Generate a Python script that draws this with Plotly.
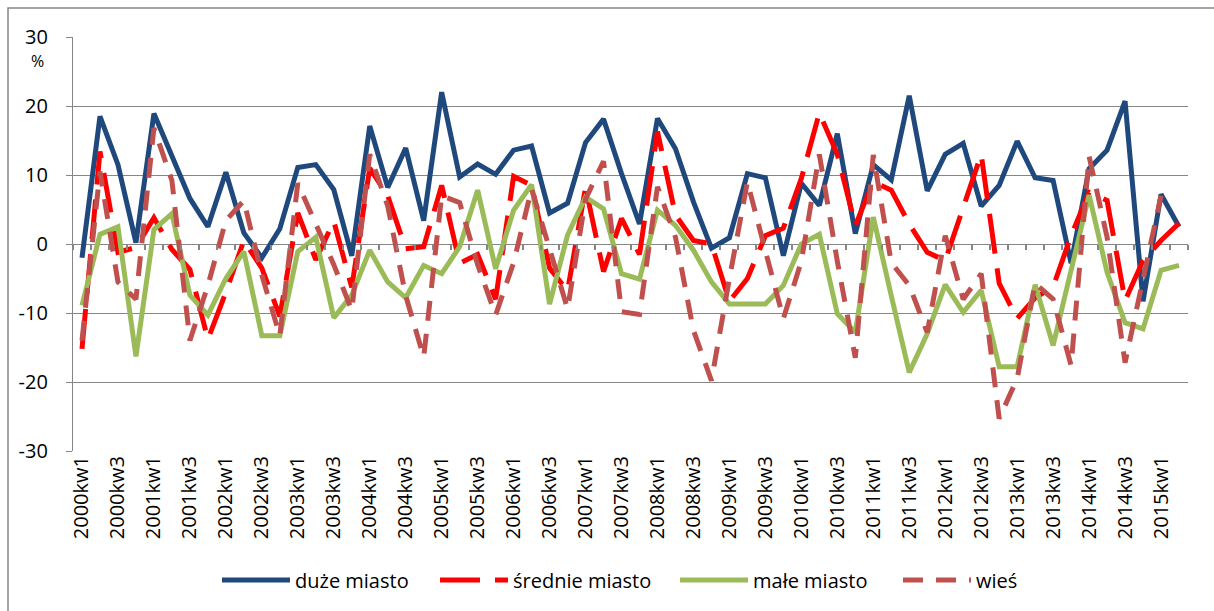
import plotly.graph_objects as go

quarters = [f"{y}kw{q}" for y in range(2000, 2016) for q in (1, 2, 3, 4)][:62]
tick_labels = quarters[::2]
y_ticks = [-30, -20, -10, 0, 10, 20, 30]
y_tick_text = ["-30", "-20", "-10", "0", "10", "20", "30"]

duze_miasto = [-2.0, 18.5, 11.5, 0.2, 18.9, 12.8, 6.6, 2.5, 10.4, 1.6,
               -2.0, 2.2, 11.1, 11.5, 7.9, -1.7, 17.1, 8.2, 13.9, 3.4,
               22.0, 9.7, 11.6, 10.1, 13.6, 14.2, 4.5, 5.9, 14.7, 18.1,
               10.2, 2.9, 18.2, 13.8, 6.1, -0.6, 0.9, 10.2, 9.6, -1.7,
               8.8, 5.6, 16.0, 1.5, 11.5, 9.3, 21.5, 7.7, 13.0, 14.6,
               5.5, 8.5, 14.9, 9.6, 9.2, -2.8, 10.9, 13.6, 20.7, -8.3,
               7.2, 2.5]

srednie_miasto = [-15.2, 13.4, -1.2, -0.5, 3.8, -0.8, -3.7, -13.8, -7.0, 0.5,
                  -3.5, -10.5, 4.5, -2.3, 3.3, -6.3, 11.0, 7.0, -0.7, -0.4,
                  8.5, -2.8, -1.5, -8.0, 9.8, 8.5, -3.5, -6.8, 8.2, -4.0,
                  3.7, -1.5, 16.3, 4.2, 0.5, 0.0, -8.3, -5.0, 1.2, 2.3,
                  9.5, 19.0, 13.0, 2.7, 9.0, 7.8, 2.9, -1.2, -2.4, 5.5,
                  13.0, -5.7, -10.8, -7.8, -6.2, 1.2, 7.5, 6.3, -8.2, -2.4,
                  0.5, 3.0]

male_miasto = [-8.9, 1.4, 2.5, -16.3, 2.1, 4.4, -7.4, -10.3, -5.0, -1.1,
               -13.3, -13.3, -1.1, 1.0, -10.7, -7.4, -0.9, -5.5, -7.8, -3.1,
               -4.3, -0.4, 7.8, -3.6, 4.9, 8.6, -8.7, 1.3, 6.8, 5.1,
               -4.3, -5.1, 4.9, 2.7, -0.9, -5.5, -8.7, -8.7, -8.7, -6.0,
               0.0, 1.4, -10.1, -12.8, 3.9, -7.5, -18.6, -13.0, -5.9, -9.9,
               -6.7, -17.8, -17.8, -5.9, -14.7, -3.8, 7.1, -4.1, -11.4, -12.3,
               -3.8, -3.1]

wies = [-14.0, 10.5, -5.5, -8.0, 16.8, 9.2, -14.0, -6.0, 3.4, 6.3,
        -4.5, -13.3, 8.8, 2.8, -3.0, -9.6, 13.0, 5.5, -7.5, -16.4,
        7.0, 6.0, -3.0, -10.3, -2.7, 8.0, -1.0, -9.4, 6.5, 12.0,
        -9.8, -10.2, 8.3, 1.0, -12.5, -19.8, -5.0, 9.0, -1.0, -10.8,
        -2.5, 13.0, -2.5, -16.5, 12.9, -2.7, -6.0, -12.8, 1.2, -8.0,
        -4.3, -25.3, -19.5, -5.7, -8.0, -17.6, 12.7, 1.0, -17.2, -5.5,
        7.0, None]

series_names = ["duże miasto", "średnie miasto", "małe miasto", "wieś"]
series_values = [duze_miasto, srednie_miasto, male_miasto, wies]
series_colors = ["#1F497D", "#FF0000", "#9BBB59", "#C0504D"]
series_dash = ["solid", "40px,15px", "solid", "20px,13px"]
legend_ids = ["legend", "legend2", "legend3", "legend4"]
legend_x_px = [222, 440, 680, 903]

FONT = "Open Sans"
FS = 20
GRID = "#868686"
W, H = 1214, 611
L, R, T, B = 73, 26, 37, 160
PW = W - L - R
PH = H - T - B

fig = go.Figure()
for name, vals, col, dash, lg in zip(series_names, series_values, series_colors,
                                     series_dash, legend_ids):
    fig.add_trace(go.Scatter(x=quarters, y=vals, name=name, mode="lines",
                             legend=lg,
                             line=dict(color=col, width=5, dash=dash)))

# helper trace so the zero-line tick axis is rendered
fig.add_trace(go.Scatter(x=[None], y=[None], xaxis="x2", yaxis="y",
                         showlegend=False, hoverinfo="skip", mode="lines"))

legend_layout = {}
for lg, px in zip(legend_ids, legend_x_px):
    legend_layout[lg] = dict(orientation="h", xref="container", yref="container",
                             x=(px - 5) / W, xanchor="left",
                             y=1 - 580 / H, yanchor="middle",
                             itemwidth=68, bgcolor="rgba(0,0,0,0)",
                             borderwidth=0,
                             font=dict(family=FONT, size=FS, color="black"))

fig.update_layout(
    width=W, height=H,
    margin=dict(l=L, r=R, t=T, b=B, autoexpand=False),
    paper_bgcolor="white", plot_bgcolor="white",
    font=dict(family=FONT, size=FS, color="black"),
    xaxis=dict(type="category", categoryorder="array", categoryarray=quarters,
               range=[-0.5, 61.5], tickmode="array", tickvals=tick_labels,
               ticktext=tick_labels, tickangle=-90, showgrid=False,
               showline=False, zeroline=False, ticks="", automargin=False,
               tickfont=dict(family=FONT, size=FS, color="black")),
    xaxis2=dict(overlaying="x", anchor="free", position=0.5, type="linear",
                range=[-0.5, 61.5], tickmode="linear", tick0=-0.5, dtick=1,
                ticks="outside", ticklen=5, tickwidth=1.5, tickcolor=GRID,
                showticklabels=False, showgrid=False, showline=False,
                zeroline=False, side="bottom", automargin=False),
    yaxis=dict(range=[-30, 30], tickmode="array",
               tickvals=y_ticks, ticktext=y_tick_text,
               showgrid=True, gridcolor=GRID, gridwidth=1.3,
               zeroline=False, showline=True, linecolor=GRID, linewidth=1.3,
               ticks="outside", ticklen=6, tickwidth=1.3, tickcolor=GRID,
               ticklabelstandoff=14, automargin=False,
               tickfont=dict(family=FONT, size=FS, color="black")),
    showlegend=True,
    annotations=[dict(text="%", xref="paper", yref="paper",
                      x=(37 - L) / PW, y=(T + PH - 61) / PH,
                      xanchor="center", yanchor="middle", showarrow=False,
                      font=dict(family=FONT, size=16, color="black"))],
    shapes=[dict(type="rect", xref="paper", yref="paper",
                 x0=(8 - L) / PW, x1=1.05, y0=-0.45, y1=(T + PH - 8) / PH,
                 line=dict(color=GRID, width=1.5), fillcolor="rgba(0,0,0,0)",
                 layer="below")],
    **legend_layout,
)

fig.write_html("out.html",
               config={"displayModeBar": False},
               post_script="document.body.style.margin='0px';"
                           "document.body.style.overflow='hidden';")
